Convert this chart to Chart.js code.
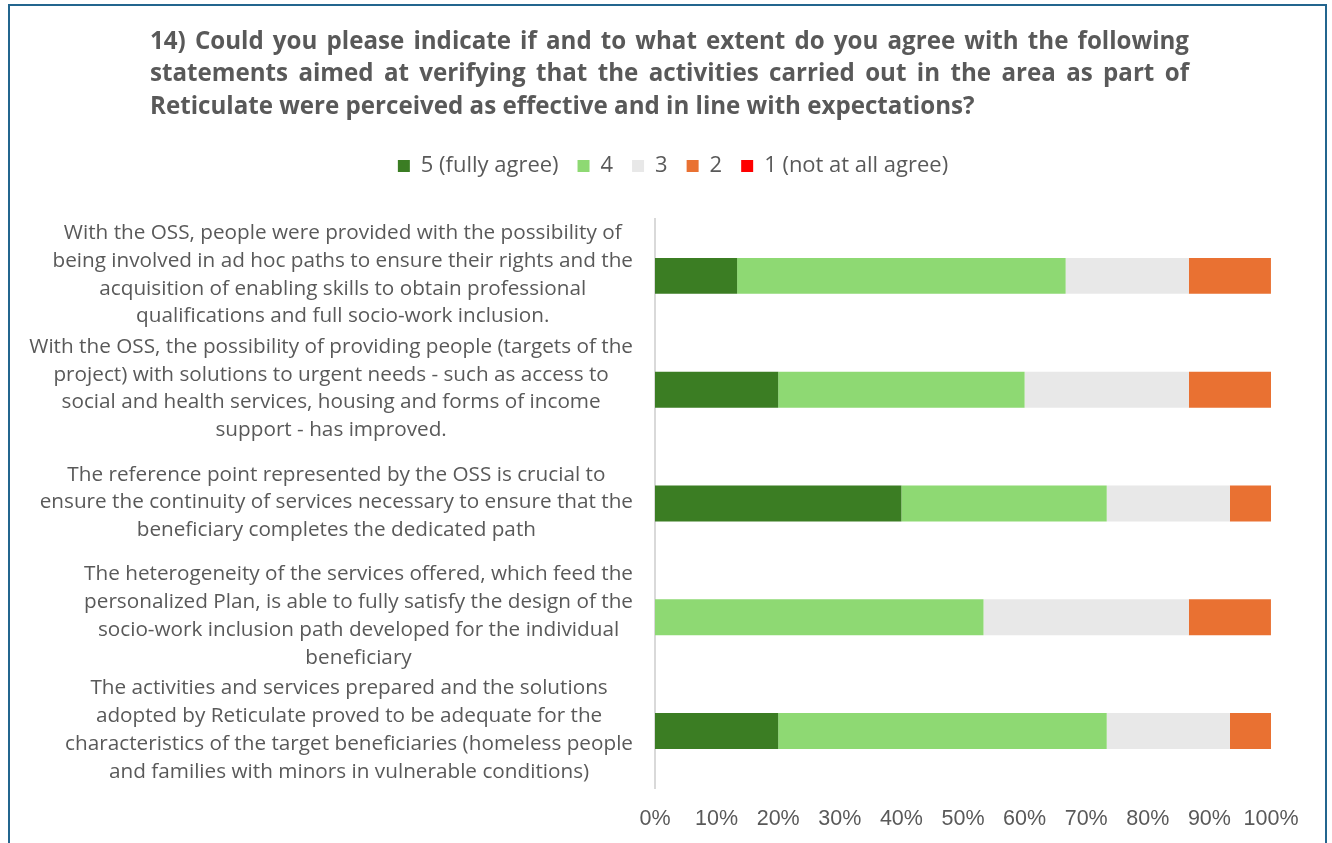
<!DOCTYPE html>
<html>
<head>
<meta charset="utf-8">
<title>Reticulate survey – question 14</title>
<script src="https://cdn.jsdelivr.net/npm/chart.js@4.4.1/dist/chart.umd.min.js"></script>
<style>
  html, body { margin: 0; padding: 0; background: #ffffff; }
  #wrap { position: relative; width: 1332px; height: 843px; overflow: hidden; }
  #chart { position: absolute; left: 0; top: 0; }
  #frame {
    position: absolute; left: 8px; top: 4px; width: 1319px; height: 900px;
    border: 2px solid #23658E; box-sizing: border-box; pointer-events: none;
  }
</style>
</head>
<body>
<div id="wrap">
  <canvas id="chart" width="1332" height="843"></canvas>
  <div id="frame"></div>
</div>
<script>
// Question text, one entry per line (all but the last are justified)
const titleLines = [
  "14) Could you please indicate if and to what extent do you agree with the following",
  "statements aimed at verifying that the activities carried out in the area as part of",
  "Reticulate were perceived as effective and in line with expectations?"
];

// Statements, pre-wrapped
const statements = [
  ["With the OSS, people were provided with the possibility of",
   "being involved in ad hoc paths to ensure their rights and the",
   "acquisition of enabling skills to obtain professional",
   "qualifications and full socio-work inclusion."],
  ["With the OSS, the possibility of providing people (targets of the",
   "project) with solutions to urgent needs - such as access to",
   "social and health services, housing and forms of income",
   "support - has improved."],
  ["The reference point represented by the OSS is crucial to",
   "ensure the continuity of services necessary to ensure that the",
   "beneficiary completes the dedicated path"],
  ["The heterogeneity of the services offered, which feed the",
   "personalized Plan, is able to fully satisfy the design of the",
   "socio-work inclusion path developed for the individual",
   "beneficiary"],
  ["The activities and services prepared and the solutions",
   "adopted by Reticulate proved to be adequate for the",
   "characteristics of the target beneficiaries (homeless people",
   "and families with minors in vulnerable conditions)"]
];

// Answer shares (% of respondents)
const fullyAgree = [13.33, 20.00, 40.00,  0.00, 20.00];
const agree4     = [53.33, 40.00, 33.33, 53.33, 53.33];
const neutral3   = [20.00, 26.67, 20.00, 33.33, 20.00];
const disagree2  = [13.33, 13.33,  6.67, 13.33,  6.67];
const notAtAll   = [ 0.00,  0.00,  0.00,  0.00,  0.00];

const seriesNames = ["5 (fully agree)", "4", "3", "2", "1 (not at all agree)"];
const xTicks = [0, 10, 20, 30, 40, 50, 60, 70, 80, 90, 100];

const TEXT = "#595959";

// Size a font so that a sample string occupies a given width
const measureCtx = document.createElement("canvas").getContext("2d");
function fitSize(sample, weight, family, width) {
  measureCtx.font = `${weight} 100px ${family}`;
  return 100 * width / measureCtx.measureText(sample).width;
}
const TITLE_FAMILY = "'Open Sans'";
const TEXT_FAMILY = "'Open Sans'";
const TICK_FAMILY = "'Liberation Sans'";
const titleSize  = fitSize(titleLines[2], "bold", TITLE_FAMILY, 825);
const labelSize  = fitSize(statements[1][0], "normal", TEXT_FAMILY, 604);
const legendSize = fitSize(seriesNames[4], "normal", TEXT_FAMILY, 184);
const tickSize   = fitSize("100%", "normal", TICK_FAMILY, 55);

// Justified multi-line heading
const headingPlugin = {
  id: "heading",
  afterDraw(chart) {
    const ctx = chart.ctx;
    const left = 150, right = 1189, top = 42, step = 32.5;
    ctx.save();
    ctx.fillStyle = TEXT;
    ctx.font = `bold ${titleSize}px ${TITLE_FAMILY}`;
    ctx.textBaseline = "middle";
    ctx.textAlign = "left";
    titleLines.forEach((line, i) => {
      const y = top + i * step;
      const words = line.split(" ");
      if (i === titleLines.length - 1 || words.length < 2) {
        ctx.fillText(line, left, y);
        return;
      }
      const widths = words.map(w => ctx.measureText(w).width);
      const total = widths.reduce((a, b) => a + b, 0);
      const gap = (right - left - total) / (words.length - 1);
      let x = left;
      words.forEach((w, k) => { ctx.fillText(w, x, y); x += widths[k] + gap; });
    });
    ctx.restore();
  }
};

// Category labels: block right-aligned to the axis, each line centred in its block
const statementLabels = {
  id: "statementLabels",
  afterDraw(chart) {
    const ctx = chart.ctx;
    const yScale = chart.scales.y;
    const rightEdge = 633, lineH = 27.8;
    ctx.save();
    ctx.fillStyle = TEXT;
    ctx.font = `${labelSize}px ${TEXT_FAMILY}`;
    ctx.textBaseline = "middle";
    ctx.textAlign = "center";
    statements.forEach((lines, i) => {
      const cy = yScale.getPixelForTick(i) - 1;
      const widest = Math.max(...lines.map(l => ctx.measureText(l).width));
      const cx = rightEdge - widest / 2;
      const y0 = cy - (lines.length - 1) * lineH / 2;
      lines.forEach((l, k) => ctx.fillText(l, cx, y0 + k * lineH));
    });
    ctx.restore();
  }
};

// Extra room between the legend and the plot
const legendGap = {
  id: "legendGap",
  beforeInit(chart) {
    const legend = chart.legend;
    if (!legend || legend._gapPatched) return;
    const fit = legend.fit;
    legend.fit = function () {
      fit.call(this);
      this.height += 32;
    };
    legend._gapPatched = true;
  }
};

const colors = ["#3B7D23", "#8ED973", "#E8E8E8", "#E97132", "#FF0000"];
const values = [fullyAgree, agree4, neutral3, disagree2, notAtAll];

const PAD_LEFT = 75;

new Chart(document.getElementById("chart"), {
  type: "bar",
  data: {
    labels: statements.map(s => s.join(" ")),
    datasets: seriesNames.map((name, i) => ({
      label: name,
      data: values[i],
      backgroundColor: colors[i],
      borderWidth: 0,
      categoryPercentage: 1,
      barPercentage: 0.316
    }))
  },
  options: {
    indexAxis: "y",
    responsive: false,
    animation: false,
    layout: { padding: { top: 136, right: 61, bottom: 0, left: PAD_LEFT } },
    plugins: {
      title: { display: false },
      tooltip: { enabled: false },
      legend: {
        position: "top",
        labels: {
          color: TEXT,
          font: { family: TEXT_FAMILY, size: legendSize },
          boxWidth: 12,
          boxHeight: 12,
          padding: 19
        }
      }
    },
    scales: {
      x: {
        stacked: true,
        min: 0,
        max: 100,
        afterBuildTicks(scale) { scale.ticks = xTicks.map(v => ({ value: v })); },
        afterFit(scale) { scale.height = 55; },
        ticks: {
          color: TEXT,
          font: { family: TICK_FAMILY, size: tickSize },
          padding: 18,
          maxRotation: 0,
          autoSkip: false,
          callback: v => v + "%"
        },
        grid: { display: false, drawTicks: false },
        border: { display: false }
      },
      y: {
        stacked: true,
        ticks: { display: false },
        grid: { display: false, drawTicks: false },
        border: { display: true, color: "#D9D9D9", width: 2 },
        afterFit(scale) { scale.width = 655 - PAD_LEFT; }
      }
    }
  },
  plugins: [legendGap, headingPlugin, statementLabels]
});
</script>
</body>
</html>
